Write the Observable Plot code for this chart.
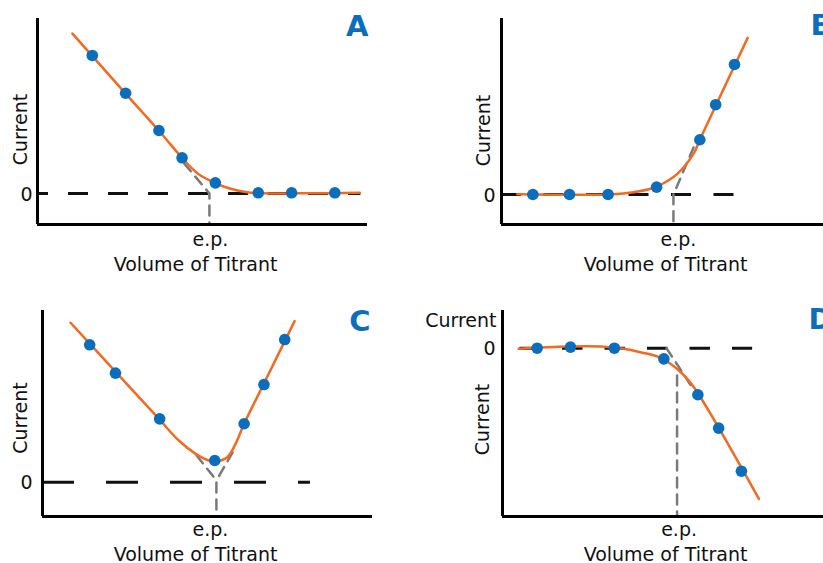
<!DOCTYPE html>
<html><head><meta charset="utf-8">
<script src="https://cdn.jsdelivr.net/npm/d3@7"></script>
<script src="https://cdn.jsdelivr.net/npm/@observablehq/plot@0.6"></script>
<style>
html,body{margin:0;padding:0;background:#fff;overflow:hidden}
#root{position:relative;width:823px;height:563px;overflow:hidden;background:#fff}
.panel{position:absolute}
</style></head><body><div id="root"></div>
<script>
// ---- data (volume of titrant vs current, arbitrary units) ----
const panelNames = ["A", "B", "C", "D"];
const epVolume = [5.21, 5.21, 5.27, 5.29];
const xAxisLabel = "Volume of Titrant";
const yAxisLabel = "Current";
const epLabel = "e.p.";
const zeroLabel = "0";

// A
const aPointVol = [1.66, 2.67, 3.68, 4.38, 5.39, 6.69, 7.70, 9.01];
const aPointCur = [7.89, 5.73, 3.60, 2.04, 0.61, 0.04, 0.04, 0.04];
const aCurveVol = [1.06, 2.67, 3.67, 4.38, 4.64, 4.94, 5.39, 5.85, 6.35, 6.82, 7.97, 9.76];
const aCurveCur = [9.14, 5.71, 3.60, 2.04, 1.51, 1.03, 0.60, 0.27, 0.07, 0.01, 0.01, 0.04];
const aGuideVol = [4.45, 5.21, 5.21];
const aGuideCur = [1.71, 0, -1.77];
const aGuideId = [0, 0, 0];

// B
const bPointVol = [0.95, 2.06, 3.23, 4.70, 6.01, 6.49, 7.06];
const bPointCur = [0, 0, 0, 0.42, 3.13, 5.13, 7.43];
const bCurveVol = [0.48, 3.39, 4.00, 4.52, 4.72, 5.33, 5.83, 6.01, 7.46];
const bCurveCur = [0.01, 0.01, 0.13, 0.33, 0.46, 1.18, 2.36, 3.13, 8.95];
const bGuideVol = [5.82, 5.21, 5.21];
const bGuideCur = [2.69, 0, -1.71];
const bGuideId = [0, 0, 0];

// C
const cPointVol = [1.43, 2.21, 3.55, 5.22, 6.11, 6.71, 7.34];
const cPointCur = [7.85, 6.23, 3.62, 1.24, 3.34, 5.58, 8.15];
const cCurveVol = [0.85, 2.21, 3.55, 4.13, 4.64, 5.04, 5.29, 5.60, 5.85, 6.11, 6.71, 7.64];
const cCurveCur = [9.11, 6.32, 3.57, 2.38, 1.62, 1.24, 1.20, 1.43, 2.19, 3.34, 5.64, 9.20];
const cGuideVol = [4.67, 5.27, 5.27, 5.76, 5.27];
const cGuideCur = [1.53, 0.10, -1.96, 1.70, 0.10];
const cGuideId = [0, 0, 0, 1, 1];

// D
const dPointVol = [1.05, 2.06, 3.39, 4.89, 5.92, 6.55, 7.24];
const dPointCur = [0, 0.06, 0, -0.61, -2.66, -4.57, -7.03];
const dCurveVol = [0.49, 1.96, 2.97, 3.68, 4.18, 4.69, 5.09, 5.45, 5.80, 7.77];
const dCurveCur = [-0.03, 0.10, 0.10, -0.03, -0.23, -0.47, -0.89, -1.46, -2.23, -8.61];
const dGuideVol = [4.97, 5.79, 5.29, 5.29];
const dGuideCur = [0, -2.36, -1.56, -9.56];
const dGuideId = [0, 0, 1, 1];

// ---- styling ----
const BLUE = "#0a6ebd", ORANGE = "#f26a21", GRAY = "#7a7a7a", INK = "#111";
const FONT = "DejaVu Sans";

const zip = (xs, ys, ids) => xs.map((x, i) => ({x, y: ys[i], id: ids ? ids[i] : 0}));

const panels = [
  {name: 0, left: 0, top: 0, yDomain: [-1.77, 10], pv: aPointVol, pc: aPointCur, cv: aCurveVol, cc: aCurveCur,
   gv: aGuideVol, gc: aGuideCur, gi: aGuideId, zeroEnd: 9.8, dash: "20,20", dashOff: 9,
   cur: {dx: -17, dy: 8}, zero: -5, ep: {dx: 1, dy: 21}, vol: {dx: -7, dy: 46}, letter: {anchor: "end", dx: 1, dy: -3}},
  {name: 1, left: 464, top: 0, yDomain: [-1.714, 10.057], pv: bPointVol, pc: bPointCur, cv: bCurveVol, cc: bCurveCur,
   gv: bGuideVol, gc: bGuideCur, gi: bGuideId, zeroEnd: 7.09, dash: "20,22.5", dashOff: 0,
   cur: {dx: -17.5, dy: 9}, zero: -6, ep: {dx: 5, dy: 21}, vol: {dx: -1, dy: 46}, letter: {anchor: "start", dx: -21, dy: -4}},
  {name: 2, left: 5, top: 292, yDomain: [-1.96, 9.81], pv: cPointVol, pc: cPointCur, cv: cCurveVol, cc: cCurveCur,
   gv: cGuideVol, gc: cGuideCur, gi: cGuideId, zeroEnd: 8.12, dash: "32,32", dashOff: 0,
   cur: {dx: -22, dy: 4.5}, zero: -10, ep: {dx: -6, dy: 19.5}, vol: {dx: -12, dy: 44}, letter: {anchor: "end", dx: -2, dy: 0}},
  {name: 3, left: 465, top: 292, yDomain: [-9.617, 2.154], pv: dPointVol, pc: dPointCur, cv: dCurveVol, cc: dCurveCur,
   gv: dGuideVol, gc: dGuideCur, gi: dGuideId, zeroEnd: 7.58, dash: "20.5,22", dashOff: 25,
   cur: {dx: -19.5, dy: 6}, zero: -7, ep: {dx: 2, dy: 19.5}, vol: {dx: -2, dy: 44}, letter: {anchor: "start", dx: -24, dy: -2},
   topLabel: {dx: -6, dy: 16}}
];

const root = document.getElementById("root");
for (const p of panels) {
  const ymin = p.yDomain[0];
  const ep = epVolume[p.name];
  const marks = [
    Plot.ruleY([{y: 0, x1: 0, x2: p.zeroEnd}], {y: "y", x1: "x1", x2: "x2", stroke: INK, strokeWidth: 3,
      strokeDasharray: p.dash, strokeDashoffset: p.dashOff}),
    Plot.line(zip(p.gv, p.gc, p.gi), {x: "x", y: "y", z: "id", stroke: GRAY, strokeWidth: 2.5, strokeDasharray: "10,7"}),
    Plot.line(zip(p.cv, p.cc), {x: "x", y: "y", curve: "catmull-rom", stroke: ORANGE, strokeWidth: 2.5}),
    Plot.dot(zip(p.pv, p.pc), {x: "x", y: "y", r: 5.8, fill: BLUE}),
    Plot.ruleX([0], {stroke: "#000", strokeWidth: 3}),
    Plot.ruleY([ymin], {stroke: "#000", strokeWidth: 3}),
    Plot.text([{t: zeroLabel, y: 0}], {y: "y", text: "t", frameAnchor: "left", textAnchor: "end", dx: p.zero, dy: 1,
      fontSize: 19, fill: INK}),
    Plot.text([{t: yAxisLabel}], {text: "t", frameAnchor: "left", textAnchor: "middle", lineAnchor: "middle", rotate: -90,
      dx: p.cur.dx, dy: p.cur.dy, fontSize: 19, fill: INK}),
    Plot.text([{t: epLabel, x: ep}], {x: "x", text: "t", frameAnchor: "bottom", lineAnchor: "bottom",
      dx: p.ep.dx, dy: p.ep.dy, fontSize: 19, fill: INK}),
    Plot.text([{t: xAxisLabel}], {text: "t", frameAnchor: "bottom", lineAnchor: "bottom",
      dx: p.vol.dx, dy: p.vol.dy, fontSize: 19, fill: INK}),
    Plot.text([{t: panelNames[p.name]}], {text: "t", frameAnchor: "top-right", textAnchor: p.letter.anchor, lineAnchor: "top",
      dx: p.letter.dx, dy: p.letter.dy, fontSize: 29, fontWeight: "bold", fill: BLUE})
  ];
  if (p.topLabel) {
    marks.push(Plot.text([{t: yAxisLabel}], {text: "t", frameAnchor: "top-left", textAnchor: "end", lineAnchor: "bottom",
      dx: p.topLabel.dx, dy: p.topLabel.dy, fontSize: 19, fill: INK}));
  }
  const chart = Plot.plot({
    width: 411, height: 290,
    marginLeft: 37, marginTop: 18, marginRight: 44, marginBottom: 66,
    x: {domain: [0, 10], axis: null},
    y: {domain: p.yDomain, axis: null},
    style: {fontFamily: FONT, background: "transparent", overflow: "visible"},
    marks
  });
  chart.classList.add("panel");
  chart.style.left = p.left + "px";
  chart.style.top = p.top + "px";
  chart.style.position = "absolute";
  root.appendChild(chart);
}
</script>
</body></html>
